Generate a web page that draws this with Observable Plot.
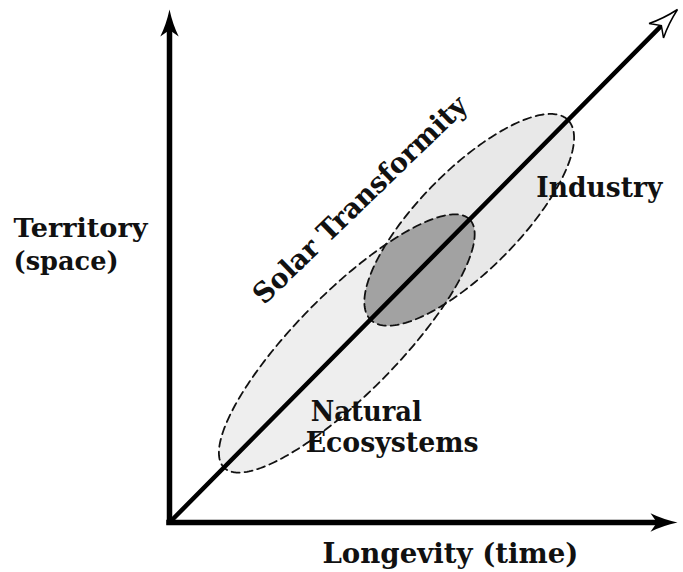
<!DOCTYPE html>
<html>
<head>
<meta charset="utf-8">
<script src="https://cdn.jsdelivr.net/npm/d3@7"></script>
<script src="https://cdn.jsdelivr.net/npm/@observablehq/plot@0.6"></script>
<style>
  html, body { margin: 0; padding: 0; background: #fff; }
  #chart svg { display: block; }
</style>
</head>
<body>
<div id="chart"></div>
<script>
// ---- Diagram data (conceptual units, 0–100 on both axes) ----
const axisX = "Longevity (time)";
const axisYLines = ["Territory", "(space)"];
const diagonalLabel = "Solar Transformity";
const regions = ["Natural Ecosystems", "Industry"];
const regionCenter = [34.9, 59.0];      // centre along the diagonal (x = y)
const regionHalfLength = [34.2, 27.5];  // semi-axis along the diagonal
const regionHalfWidth = [9.9, 9.8];     // semi-axis across the diagonal
const diagonalEnd = [[0, 0], [96.6, 96.6]];

// ---- geometry helpers ----
const S2 = Math.SQRT1_2;
function ellipse(i, n = 240) {
  const c = regionCenter[i], a = regionHalfLength[i], b = regionHalfWidth[i];
  return d3.range(n).map(k => {
    const t = (2 * Math.PI * k) / n;
    const u = a * Math.cos(t), v = b * Math.sin(t);
    return [c + (u - v) * S2, c + (u + v) * S2];
  });
}
function inside(i, [x, y]) {
  const c = regionCenter[i];
  const dx = x - c, dy = y - c;
  const u = (dx + dy) * S2, v = (dy - dx) * S2;
  return (u / regionHalfLength[i]) ** 2 + (v / regionHalfWidth[i]) ** 2 <= 1.0001;
}
const natural = ellipse(0), industry = ellipse(1);
const overlap = d3.polygonHull([
  ...natural.filter(p => inside(1, p)),
  ...industry.filter(p => inside(0, p))
]);

// arrowhead symbol: tip at origin, pointing up, length = r
const headSymbol = {
  draw(ctx, size) {
    const r = Math.sqrt(size / Math.PI);
    const w = r * 0.34, n = r * 0.24;
    ctx.moveTo(0, 0);
    ctx.quadraticCurveTo(w * 0.35, r * 0.55, w, r);
    ctx.lineTo(0, r - n);
    ctx.lineTo(-w, r);
    ctx.quadraticCurveTo(-w * 0.35, r * 0.55, 0, 0);
    ctx.closePath();
  }
};

const P = d => d[0], Q = d => d[1];
const font = { fontFamily: "DejaVu Serif", fontWeight: "bold", fill: "#111", lineAnchor: "bottom", fontSize: 28 };

const chart = Plot.plot({
  width: 683,
  height: 572,
  margin: 0,
  x: { domain: [0, 100], range: [169, 677], axis: null },
  y: { domain: [0, 100], range: [522, 9], axis: null },
  style: { background: "#fff", overflow: "visible" },
  marks: [
    Plot.line(natural, { x: P, y: Q, curve: "linear-closed", fill: "#eeeeee", stroke: "none" }),
    Plot.line(industry, { x: P, y: Q, curve: "linear-closed", fill: "#e8e8e8", stroke: "none" }),
    Plot.line(overlap, { x: P, y: Q, curve: "linear-closed", fill: "#a2a2a2", stroke: "none" }),
    Plot.line(natural, { x: P, y: Q, curve: "linear-closed", stroke: "#111", strokeWidth: 1.8, strokeDasharray: "8,5" }),
    Plot.line(industry, { x: P, y: Q, curve: "linear-closed", stroke: "#111", strokeWidth: 1.8, strokeDasharray: "8,5" }),
    Plot.line(diagonalEnd, { x: P, y: Q, stroke: "#000", strokeWidth: 4.5 }),
    Plot.ruleX([0], { y1: 0, y2: 96, stroke: "#000", strokeWidth: 5.5, strokeLinecap: "square" }),
    Plot.ruleY([0], { x1: 0, x2: 96, stroke: "#000", strokeWidth: 5.5, strokeLinecap: "square" }),
    Plot.dot([[0, 100]], { x: P, y: Q, r: 27, symbol: headSymbol, fill: "#000", stroke: "none", rotate: 0 }),
    Plot.dot([[100, 0]], { x: P, y: Q, r: 27, symbol: headSymbol, fill: "#000", stroke: "none", rotate: 90 }),
    Plot.dot([[100, 100]], { x: P, y: Q, r: 30, symbol: headSymbol, fill: "#fff", stroke: "#000", strokeWidth: 1.5, rotate: 45 }),
    Plot.text([axisYLines[0]], { ...font, text: d => d, x: -30.7, y: 55.6, textAnchor: "start", fontSize: 26 }),
    Plot.text([axisYLines[1]], { ...font, text: d => d, x: -30.7, y: 49.3, textAnchor: "start", fontSize: 26 }),
    Plot.text([axisX], { ...font, text: d => d, x: 30.1, y: -7.8, textAnchor: "start" }),
    Plot.text([regions[1]], { ...font, text: d => d, x: 72.2, y: 63.4, textAnchor: "start" }),
    Plot.text(["Natural"], { ...font, text: d => d, x: 27.8, y: 19.7, textAnchor: "start" }),
    Plot.text(["Ecosystems"], { ...font, text: d => d, x: 26.8, y: 13.8, textAnchor: "start" }),
    Plot.text([diagonalLabel], { ...font, text: d => d, x: 38.8, y: 61.6, textAnchor: "middle", rotate: -44 })
  ]
});

const widths = new Map([
  ["Territory", 134], ["(space)", 105], ["Longevity (time)", 256],
  ["Industry", 126], ["Natural", 111], ["Ecosystems", 173], ["Solar Transformity", 285]
]);
chart.querySelectorAll("text").forEach(t => {
  const w = widths.get(t.textContent);
  if (w) { t.setAttribute("textLength", w); t.setAttribute("lengthAdjust", "spacingAndGlyphs"); }
});
document.getElementById("chart").appendChild(chart);
</script>
</body>
</html>
